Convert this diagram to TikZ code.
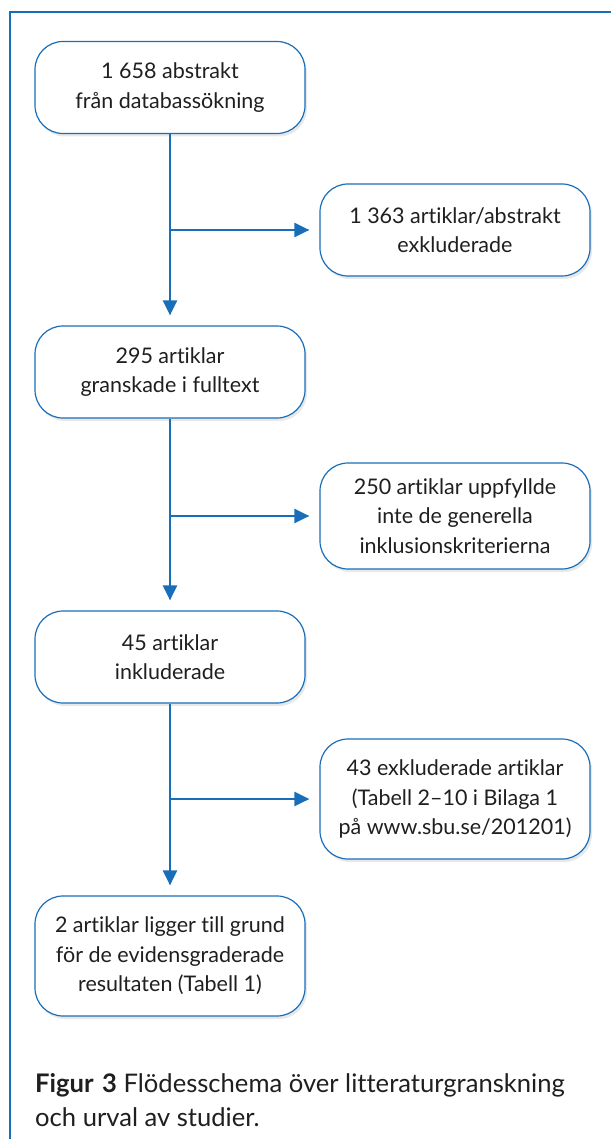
\documentclass[tikz,border=0pt]{standalone}
\usepackage{fontspec}
\setmainfont{Lato}[Ligatures={NoCommon}]
\usetikzlibrary{arrows.meta,shadows}

\definecolor{sbublue}{RGB}{25,110,185}

\tikzset{
  flowbox/.style={draw=sbublue, line width=1.2pt, fill=white, rounded corners=28pt,
    minimum width=270pt, minimum height=92pt, align=center,
    font=\fontsize{21.5}{29.5}\selectfont, text=black!88,
    drop shadow={opacity=0.18, shadow xshift=2pt, shadow yshift=-3pt}},
  flowarrow/.style={sbublue, line width=2.4pt, -{Triangle[length=15pt,width=14pt]}, shorten >=10pt},
}

\begin{document}
\begin{tikzpicture}[x=1pt,y=-1pt]
          \useasboundingbox (0,0) rectangle (611,1139);
          \draw [sbublue, line width=1.3pt] (611,12) -- (10,12) -- (10,1139);

          % left column
          \node[flowbox] (search) at (170,87.5) {1 658 abstrakt\\från databassökning};
          \node[flowbox] (fulltext) at (170,372) {295 artiklar\\granskade i fulltext};
          \node[flowbox] (included) at (170,657) {45 artiklar\\inkluderade};
          \node[flowbox, minimum height=120pt] (result) at (170,956)
            {2 artiklar ligger till grund\\för de evidensgraderade\\resultaten (Tabell 1)};

          % right column
          \node[flowbox] (excl1) at (455,230) {1 363 artiklar/abstrakt\\exkluderade};
          \node[flowbox, minimum height=106pt] (excl2) at (455,516)
            {250 artiklar uppfyllde\\inte de generella\\inklusionskriterierna};
          \node[flowbox, minimum height=120pt] (excl3) at (455,799)
            {43 exkluderade artiklar\\(Tabell 2--10 i Bilaga 1\\på www.sbu.se/201201)};

          \draw[flowarrow] (search) -- (fulltext);
          \draw[flowarrow] (fulltext) -- (included);
          \draw[flowarrow] (included) -- (result);
          \draw[flowarrow] (search |- excl1) -- (excl1);
          \draw[flowarrow] (fulltext |- excl2) -- (excl2);
          \draw[flowarrow] (included |- excl3) -- (excl3);

          \node[anchor=base west, align=left, inner sep=0pt,
            font=\fontsize{25.6}{34}\selectfont, text=black!88] (caption) at (35,1126)
            {\textbf{Figur\,\,3} Flödesschema över litteraturgranskning\\och urval av studier.};
\end{tikzpicture}
\end{document}
